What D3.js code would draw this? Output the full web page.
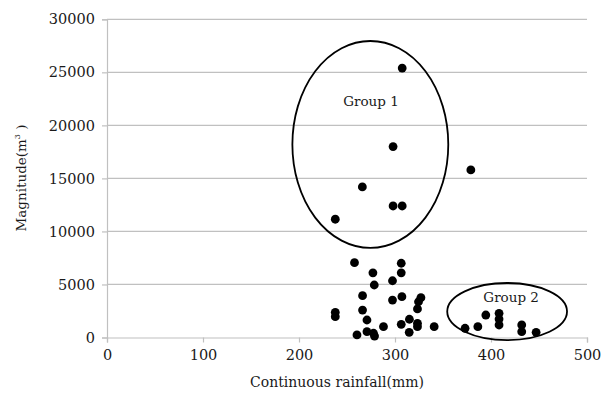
<!DOCTYPE html>
<html>
<head>
<meta charset="utf-8">
<script src="https://cdn.jsdelivr.net/npm/d3@7/dist/d3.min.js"></script>
<style>
  html, body { margin: 0; padding: 0; background: #fff; }
  svg { display: block; }
  text { font-family: "DejaVu Serif", "Liberation Serif", serif; fill: #1a1a1a; }
</style>
</head>
<body>
<svg id="chart" width="612" height="394"></svg>
<script>
// Continuous rainfall (mm) against debris magnitude (m^3)
const rainfall = [
  307.5, 298, 266, 298, 307.5, 237.8, 379,
  257.8, 306.5, 277, 306.5, 297.4, 278.4, 266.2, 307.2, 297.4, 327, 324.5, 323.4,
  237.8, 237.8, 266.2, 270.8, 288, 306.5, 315, 323.4, 323.4, 340.8,
  260.4, 270.8, 277.6, 278.7, 314.8,
  373, 386.3, 394.6, 408.4, 408.4, 408.4, 432, 432, 447
];
const magnitude = [
  25400, 18000, 14200, 12400, 12400, 11150, 15800,
  7050, 7000, 6100, 6100, 5350, 4950, 3940, 3850, 3530, 3750, 3370, 2690,
  2370, 1960, 2590, 1650, 1020, 1240, 1720, 1340, 1020, 1020,
  240, 550, 400, 140, 490,
  870, 1020, 2120, 2280, 1740, 1180, 1180, 550, 490
];

const xTicks = [0, 100, 200, 300, 400, 500];
const yTicks = [0, 5000, 10000, 15000, 20000, 25000, 30000];

// Grouping ellipses, in data units (centre and radii)
const groupNames = ["Group 1", "Group 2"];
const groupCx = [274.3, 416.8];
const groupCy = [18200, 2450];
const groupRx = [81.2, 62.4];
const groupRy = [9755, 2690];
const groupLabelX = [275, 421];
const groupLabelY = [22300, 3820];

const FONT = "DejaVu Serif, Liberation Serif, serif";
const margin = { left: 107, right: 25, top: 19.3, bottom: 56.5 };
const W = 612, H = 394;
const svg = d3.select("#chart");

const x = d3.scaleLinear().domain([0, 500]).range([margin.left, W - margin.right]);
const y = d3.scaleLinear().domain([0, 30000]).range([H - margin.bottom, margin.top]);

// horizontal gridlines
svg.append("g")
  .selectAll("line")
  .data(yTicks.filter(d => d > 0))
  .join("line")
  .attr("x1", x(0)).attr("x2", x(500))
  .attr("y1", d => y(d)).attr("y2", d => y(d))
  .attr("stroke", "#c0c0c0").attr("stroke-width", 1.2);

// x axis
const xAxis = svg.append("g")
  .attr("transform", `translate(0,${y(0)})`)
  .call(d3.axisBottom(x).tickValues(xTicks).tickSize(5).tickPadding(7).tickFormat(d3.format("d")));
xAxis.select(".domain").attr("stroke", "#c0c0c0").attr("stroke-width", 1.2);
xAxis.selectAll(".tick line").attr("stroke", "#c0c0c0").attr("stroke-width", 1.2);
xAxis.selectAll(".tick text").attr("font-size", 14.5).attr("fill", "#1a1a1a")
  .attr("font-family", FONT);

// y axis
const yAxis = svg.append("g")
  .attr("transform", `translate(${x(0)},0)`)
  .call(d3.axisLeft(y).tickValues(yTicks).tickSize(5).tickPadding(7).tickFormat(d3.format("d")));
yAxis.select(".domain").attr("stroke", "#c0c0c0").attr("stroke-width", 1.2);
yAxis.selectAll(".tick line").attr("stroke", "#c0c0c0").attr("stroke-width", 1.2);
yAxis.selectAll(".tick text").attr("font-size", 14.5).attr("fill", "#1a1a1a")
  .attr("font-family", FONT);

// axis titles
svg.append("text")
  .attr("x", 337).attr("y", 387)
  .attr("text-anchor", "middle").attr("font-size", 14)
  .text("Continuous rainfall(mm)");

const yt = svg.append("text")
  .attr("transform", `translate(26,178) rotate(-90)`)
  .attr("text-anchor", "middle").attr("font-size", 13.5);
yt.append("tspan").text("Magnitude(m");
yt.append("tspan").attr("font-size", 8).attr("dy", -6).text("3");
yt.append("tspan").attr("dy", 6).text(" )");

// points
svg.append("g")
  .selectAll("circle")
  .data(rainfall.map((r, i) => [r, magnitude[i]]))
  .join("circle")
  .attr("cx", d => x(d[0]))
  .attr("cy", d => y(d[1]))
  .attr("r", 4.4)
  .attr("fill", "#000");

// group ellipses and labels
const groups = groupNames.map((n, i) => ({
  name: n, cx: groupCx[i], cy: groupCy[i], rx: groupRx[i], ry: groupRy[i],
  lx: groupLabelX[i], ly: groupLabelY[i]
}));
svg.append("g")
  .selectAll("ellipse")
  .data(groups)
  .join("ellipse")
  .attr("cx", d => x(d.cx))
  .attr("cy", d => y(d.cy))
  .attr("rx", d => x(d.cx + d.rx) - x(d.cx))
  .attr("ry", d => y(d.cy - d.ry) - y(d.cy))
  .attr("fill", "none")
  .attr("stroke", "#000")
  .attr("stroke-width", 1.8);

svg.append("g")
  .selectAll("text")
  .data(groups)
  .join("text")
  .attr("x", d => x(d.lx))
  .attr("y", d => y(d.ly))
  .attr("dy", "0.35em")
  .attr("text-anchor", "middle")
  .attr("font-size", 13.5)
  .text(d => d.name);
</script>
</body>
</html>
